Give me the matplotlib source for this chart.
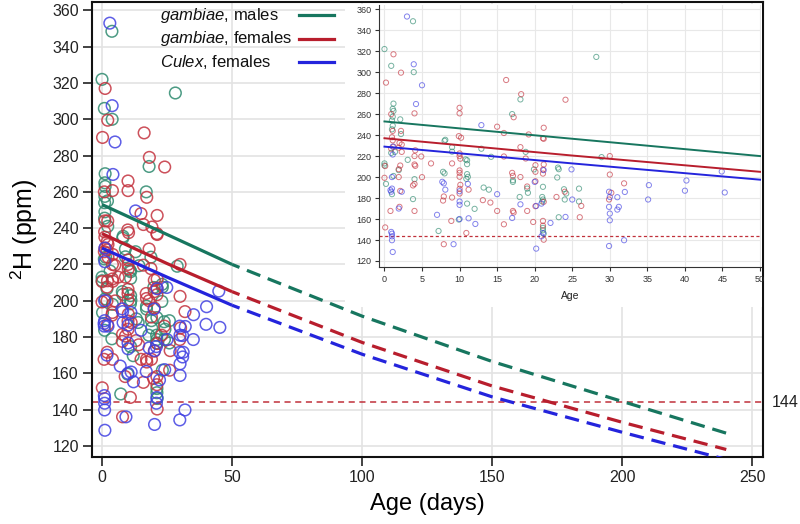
import matplotlib.pyplot as plt

plt.rcParams['font.family'] = ['Liberation Sans', 'DejaVu Sans']
plt.rcParams['mathtext.fontset'] = 'custom'
plt.rcParams['mathtext.rm'] = 'Liberation Sans'
plt.rcParams['mathtext.it'] = 'Liberation Sans:italic'

# An. gambiae males: age (days), 2H (ppm)
males_age = [0, 0.9, 3.8, 3.9, 1.2, 1.1, 1.2, 1.1, 1.0, 1.1, 1.0, 2.1, 2.2, 0.9, 1.4,
             0, 0, 1.9, 1.2, 0.2, 1.0, 3.1, 4.0, 3.8, 8.1, 8.0, 9.0, 9.0, 7.8, 8.0,
             7.2, 9.9, 10.8, 11.0, 11.0, 11.0, 11.1, 10.9, 11.0, 12.0, 12.9, 14.2, 13.2, 13.9,
             17.0, 17.1, 17.1, 18.1, 18.8, 18.0, 19.0, 19.1, 19.9, 21.1, 21.0, 21.1, 21.0,
             21.1, 21.1, 21.2, 23.1, 23.2, 23.0, 23.9, 24.2, 24.0, 23.2, 25.9, 25.9, 28.2, 28.9]
males_h = [322, 306, 348.5, 300, 270, 265, 263, 257.5, 254, 249, 245.5, 255, 241, 223, 224,
           211, 213, 206.6, 201, 193.5, 183.7, 216.4, 198, 179, 235.5, 234.5, 228.5, 224.2, 205, 203.5,
           148.6, 159.5, 216.8, 216, 212.3, 202.8, 200.2, 198.3, 174.7, 169.7, 227, 219.3, 190, 188,
           260, 197, 195.4, 274, 224, 181, 189, 185, 207.3, 190.7, 181, 178.6, 176.7,
           151.6, 149.3, 146.1, 209, 207.5, 199.6, 188.4, 184.3, 178.6, 161.7, 189, 176.7, 314.5, 219]

# An. gambiae females
females_age = [1.2, 2.2, 0.2, 0.9, 2.2, 1.1, 1.0, 1.1, 2.0, 2.3, 1.2, 0.9, 1.9, 2.3,
               0.1, 2.1, 1.9, 1.9, 0, 2.1, 0.8, 2.0, 0.1, 4.0, 4.1, 4.0, 4.9, 4.0, 4.1, 5.0,
               4.0, 3.8, 4.0, 6.2, 9.0, 7.9, 7.8, 9.0, 8.9, 7.9, 10.0, 10.0, 9.9, 10.2,
               10.0, 10.0, 10.1, 10.0, 10.0, 10.0, 10.1, 10.0, 10.0, 10.9, 11.2, 15.0, 15.9,
               15.9, 13.1, 14.1, 15.0, 15.9, 16.2, 17.2, 17.0, 17.1, 17.2, 17.1, 18.2, 18.1,
               18.1, 19.2, 18.8, 19.0, 19.0, 21.2, 21.1, 21.2, 20.1, 20.1, 21.2, 21.1, 21.1,
               20.1, 21.2, 20.1, 21.1, 21.1, 19.8, 21.2, 24.1, 22.9, 24.0, 26.2, 26.0,
               30.0, 30.0, 29.9, 30.2, 31.9]
females_h = [317, 299.5, 290, 260, 244, 244, 238, 235, 232.5, 231, 229, 227, 228, 224,
             210.5, 211, 207.5, 200, 199.3, 186.8, 167.7, 171.6, 152, 260.7, 225.5, 220, 219.6, 212, 210.7, 199.9,
             193.5, 192, 167.7, 213, 213, 181.5, 177.6, 180.5, 158.2, 136, 266, 260.7, 239, 237.5,
             222.5, 220, 217.5, 206.3, 204, 200.3, 192.6, 188.8, 184.3, 146.7, 188, 248, 242,
             219.6, 178, 175.7, 167.7, 155, 292.5, 257, 204, 201.2, 166.2, 167.7, 279, 228.5,
             200, 240.6, 217.7, 191, 167.7, 247, 237, 236.5, 211.3, 205, 212, 207, 203.3,
             196, 176.4, 172.2, 158.2, 153.7, 157.2, 140.3, 273.7, 181, 186, 172.5, 161.7,
             220, 202.4, 178.6, 185, 194]

# Culex females
culex_age = [3.0, 3.9, 5.0, 4.2, 1.1, 1.1, 1.0, 1.0, 0.9, 0.8, 2.3, 0.9, 1.0, 1.0, 1.0, 1.1,
             1.9, 7.7, 7.9, 8.1, 7.0, 9.2, 10.0, 10.0, 10.0, 10.0, 11.1, 11.2, 12.1, 12.9,
             15.0, 17.0, 18.1, 20.0, 21.2, 20.9, 20.2, 21.1, 20.9, 20.2, 22.1, 24.1, 24.9, 25.0,
             29.9, 30.0, 29.9, 30.0, 30.0, 29.9, 31.0, 31.2, 31.0, 32.0, 31.9, 35.2, 35.1,
             40.2, 40.0, 44.9, 45.3]
culex_h = [353, 307.5, 287.5, 269.6, 221.5, 229, 200, 189, 186, 187.5, 186, 147.7, 146, 143.5, 139.8, 128.6,
           170, 195.5, 194, 188, 164, 136, 186.5, 176.7, 173.5, 160, 193.5, 160.7, 155.3, 249.5,
           183.7, 161, 174, 195.4, 206.6, 174.7, 172.5, 146.7, 143.5, 131.8, 156.3, 162, 207.3, 178.6,
           186, 181, 171.6, 165.2, 158.8, 134.3, 180.8, 171.6, 169, 185.8, 139.8, 192.3, 178.6,
           196.7, 187, 205.3, 185.3]

# fitted decay curves (solid to 50 days, extrapolated after)
fit_age = [0, 25, 50, 100, 150, 200, 240]
fit_males = [253, 236.5, 220, 191.5, 166.5, 144.5, 127]
fit_females = [237, 220.5, 205, 177, 153, 133, 118]
fit_culex = [229, 213, 197.5, 170.5, 147, 127.5, 112.5]

threshold = 144

labels = [r'$\it{gambiae}$, males', r'$\it{gambiae}$, females', r'$\it{Culex}$, females']
pt_colors = ['#2e8a6f', '#c4323e', '#4141e2']
line_colors = ['#17765f', '#b81e2d', '#2424dc']
groups = [(males_age, males_h, fit_males),
          (females_age, females_h, fit_females),
          (culex_age, culex_h, fit_culex)]

fig = plt.figure(figsize=(8, 5.24), dpi=100)

# main panel
ax = fig.add_axes([0.115, 0.128, 0.839, 0.868])
for (age, h, fit), pc, lc in zip(groups, pt_colors, line_colors):
    ax.scatter(age, h, s=70, facecolors='none', edgecolors=pc, linewidths=1.1, alpha=0.85, zorder=3)
    ax.plot(fit_age[:3], fit[:3], color=lc, lw=2.3, zorder=4, solid_capstyle='butt')
    ax.plot(fit_age[2:], fit[2:], color=lc, lw=2.3, ls=(2, (4.5, 2.5)), zorder=4)
ax.axhline(threshold, color='#c0303a', lw=1.1, ls=(0, (4, 3)), zorder=2)
ax.text(1.012, threshold, str(threshold), transform=ax.get_yaxis_transform(),
        va='center', ha='left', fontsize=11.5, color='#222')

ax.set_xlim(-3.85, 254.2)
ax.set_ylim(113.9, 364.6)
ax.set_xticks(range(0, 251, 50))
ax.set_yticks(range(120, 361, 20))
ax.grid(True, color='#e3e3e3', lw=1.2)
ax.set_axisbelow(True)
for s in ax.spines.values():
    s.set_linewidth(1.5)
    s.set_color('#111')
ax.tick_params(direction='out', length=6.5, width=1.2, labelsize=11.5, colors='#222', pad=3)
ax.set_xlabel('Age (days)', fontsize=17, labelpad=6)
ax.set_ylabel(r'$^{2}$H (ppm)', fontsize=18, labelpad=9)

# legend drawn by hand: labels left aligned, line samples to the right
for i, (lab, lc) in enumerate(zip(labels, line_colors)):
    y = 0.971 - i * 0.0515
    ax.text(0.101, y, lab, transform=ax.transAxes, fontsize=12, va='center', ha='left', color='#111')
    ax.plot([0.308, 0.361], [y, y], transform=ax.transAxes, color=lc, lw=2.3, clip_on=False)

# white backing for the inset
bg = fig.add_axes([0.431, 0.414, 0.521, 0.579])
bg.set_facecolor('white')
bg.set_xticks([])
bg.set_yticks([])
for s in bg.spines.values():
    s.set_visible(False)
bg.set_zorder(2)

# inset: first 50 days
ins = fig.add_axes([0.474, 0.4905, 0.477, 0.5])
ins.set_zorder(3)
ins.patch.set_alpha(0)
for (age, h, fit), pc, lc in zip(groups, pt_colors, line_colors):
    ins.scatter(age, h, s=14, facecolors='none', edgecolors=pc, linewidths=0.7, alpha=0.65, zorder=3)
    ins.plot(fit_age[:3], fit[:3], color=lc, lw=1.4, zorder=4)
ins.axhline(threshold, color='#c0303a', lw=0.9, ls=(0, (2.5, 2)), zorder=2)
ins.set_xlim(-0.7, 50.1)
ins.set_ylim(114.3, 364)
ins.set_xticks(range(0, 51, 5))
ins.set_yticks(range(120, 361, 20))
ins.grid(True, color='#e8e8e8', lw=0.8)
ins.set_axisbelow(True)
ins.spines['top'].set_visible(False)
ins.spines['right'].set_visible(False)
ins.spines['left'].set_color('#333')
ins.spines['bottom'].set_color('#333')
ins.tick_params(direction='out', length=3, width=0.8, labelsize=6.5, colors='#333', pad=2.5)
ins.set_xlabel('Age', fontsize=7.5, labelpad=5, color='#222')

fig.savefig('out.png', dpi=100)
